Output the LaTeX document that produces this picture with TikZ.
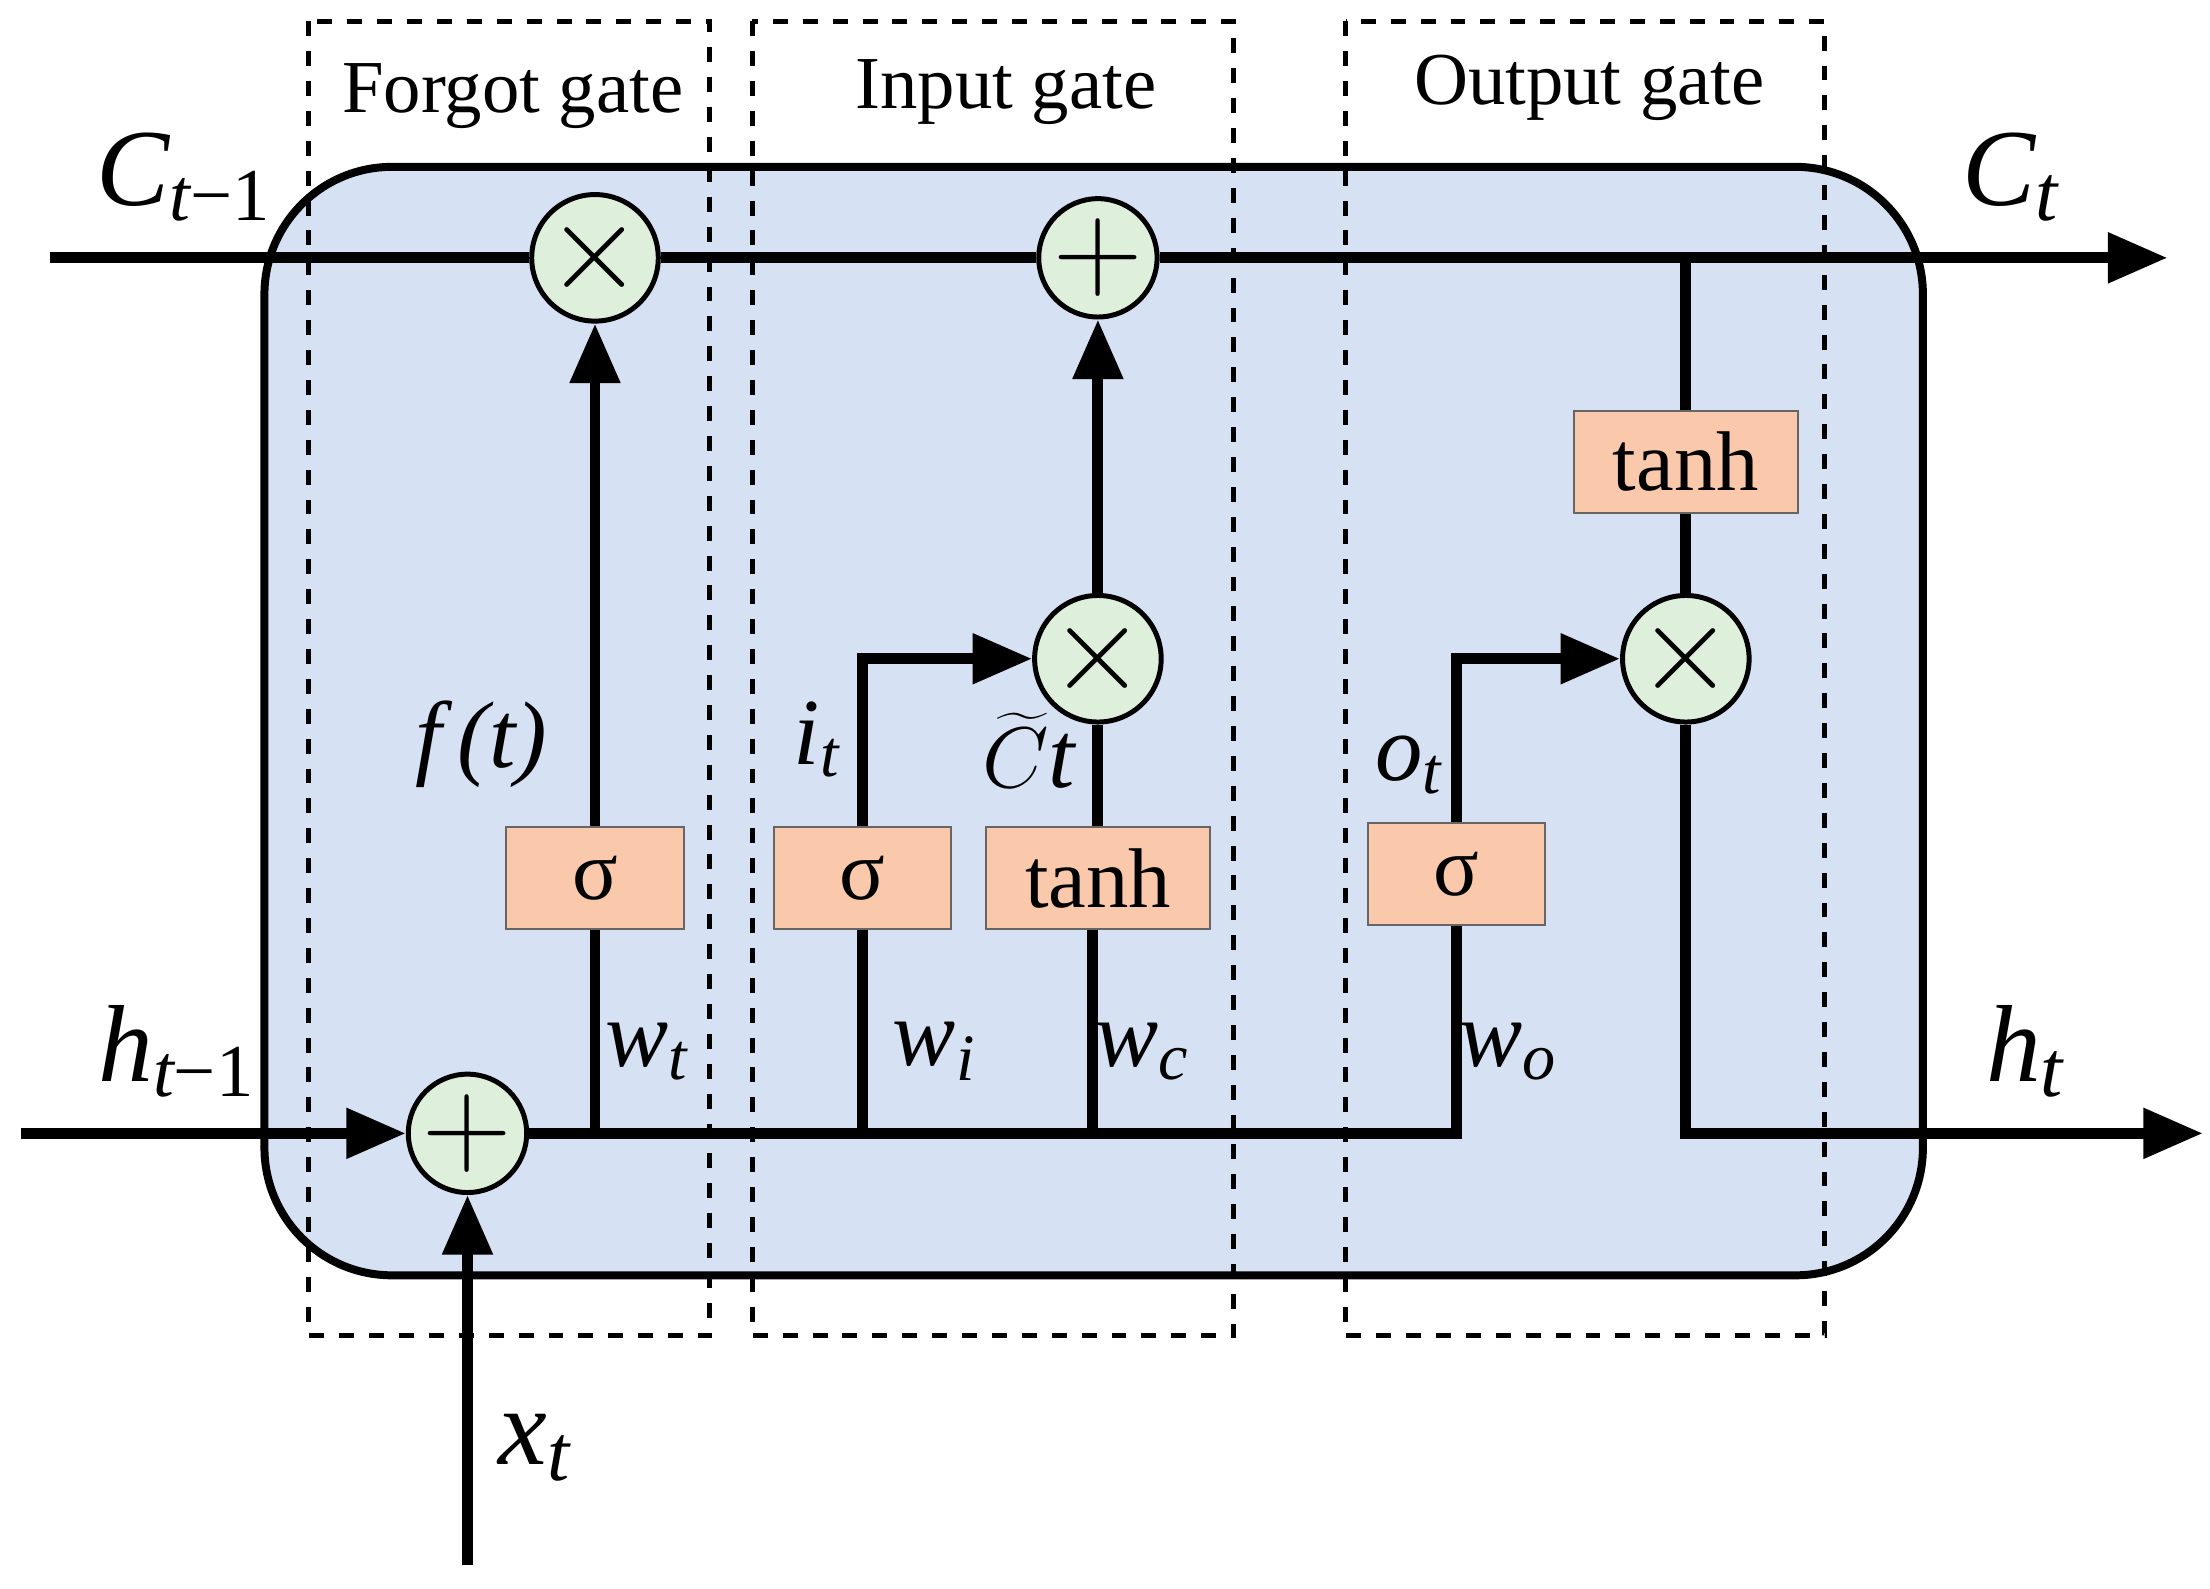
\documentclass[tikz,border=0pt]{standalone}
\usepackage{fontspec}
\setmainfont{Liberation Serif}
\usetikzlibrary{arrows.meta}
\definecolor{cellblue}{RGB}{214,225,243}
\definecolor{boxor}{RGB}{250,200,170}
\definecolor{opgreen}{RGB}{222,240,220}
\begin{document}
\begin{tikzpicture}[x=0.01cm,y=-0.01cm,
  ar/.style={line width=2.2pt,-{Triangle[length=0.42cm,width=0.34cm]}},
  ln/.style={line width=2.2pt},
  op/.style={circle,draw,line width=1pt,fill=opgreen,minimum size=0.74cm,inner sep=0pt,font=\fontsize{30}{30}\selectfont},
  fn/.style={draw=gray!80!black,fill=boxor,minimum height=0.72cm,font=\fontsize{17}{17}\selectfont},
  gate/.style={draw,dashed,line width=1pt},
  gl/.style={font=\fontsize{15}{15}\selectfont},
  big/.style={font=\fontsize{22}{22}\selectfont\itshape},
  sm/.style={font=\fontsize{19}{19}\selectfont\itshape}]
\useasboundingbox (0,0) rectangle (1560,1121);
\node[draw,line width=1.6pt,fill=cellblue,rounded corners=0.9cm,minimum width=11.7cm,minimum height=7.82cm] (cell) at (772,509) {};
\draw[gate] (218,15) rectangle (501,943);
\draw[gate] (531,15) rectangle (871,943);
\draw[gate] (950,15) rectangle (1288,943);
\node[gl] (lf) at (362,68) {Forgot gate};
\node[gl] (li) at (710,65) {Input gate};
\node[gl] (lo) at (1122,62) {Output gate};
% operators
\node[op] (mf) at (420,182) {$\times$};
\node[op] (pc) at (775,182) {$+$};
\node[op] (mi) at (775,465) {$\times$};
\node[op] (mo) at (1190,465) {$\times$};
\node[op] (ph) at (330,800) {$+$};
% function boxes
\node[fn,minimum width=1.25cm] (sf) at (420,620) {σ};
\node[fn,minimum width=1.25cm] (si) at (609,620) {σ};
\node[fn,minimum width=1.58cm] (tc) at (775,620) {tanh};
\node[fn,minimum width=1.25cm] (so) at (1028,617) {σ};
\node[fn,minimum width=1.58cm] (th) at (1190,326) {tanh};
% coordinates
\coordinate (cin) at (35,182);
\coordinate (cout) at (1530,182);
\coordinate (hin) at (15,800);
\coordinate (hout) at (1555,800);
\coordinate (xin) at (330,1105);
\coordinate (jf) at (420,800);
\coordinate (ji) at (609,800);
\coordinate (jc) at (771,800);
\coordinate (jo) at (1028,800);
\coordinate (ct) at (1190,182);
% C line
\draw[ln] (cin) -- (mf) -- (pc);
\draw[ar] (pc) -- (cout);
% h line
\draw[ar] (hin) -- (ph);
\draw[ar] (xin) -- (ph);
\draw[ln] (ph) -- (jo) -- (so);
\draw[ln] (jf) -- (sf);
\draw[ar] (sf) -- (mf);
\draw[ln] (ji) -- (si);
\draw[ar] (si.north) |- (mi);
\draw[ln] (jc) -- (jc|-tc.south);
\draw[ln] (tc) -- (mi);
\draw[ar] (mi) -- (pc);
\draw[ar] (so.north) |- (mo);
\draw[ln] (ct) -- (th) -- (mo);
\draw[ar] (mo) |- (hout);
% labels
\node[big] (lc1) at (130,125) {C\textsubscript{\fontsize{15}{15}\selectfont t\upshape −1}};
\node[big] (lc2) at (1420,125) {C\textsubscript{\fontsize{16}{16}\selectfont t}};
\node[big] (lh1) at (125,742) {h\textsubscript{\fontsize{15}{15}\selectfont t\upshape −1}};
\node[big] (lh2) at (1430,742) {h\textsubscript{\fontsize{16}{16}\selectfont t}};
\node[big] (lx) at (378,1022) {x\textsubscript{\fontsize{16}{16}\selectfont t}};
\node[sm] (lft) at (340,525) {f\,(t)};
\node[sm] (lwt) at (457,742) {w\textsubscript{t}};
\node[sm] (lwi) at (660,742) {w\textsubscript{i}};
\node[sm] (lwc) at (807,742) {w\textsubscript{c}};
\node[sm] (lwo) at (1065,742) {w\textsubscript{o}};
\node[sm] (lit) at (577,522) {i\textsubscript{t}};
\node[sm] (lct) at (726,530) {$\widetilde{C}$t};
\node[sm] (lot) at (995,540) {o\textsubscript{t}};
\end{tikzpicture}
\end{document}
